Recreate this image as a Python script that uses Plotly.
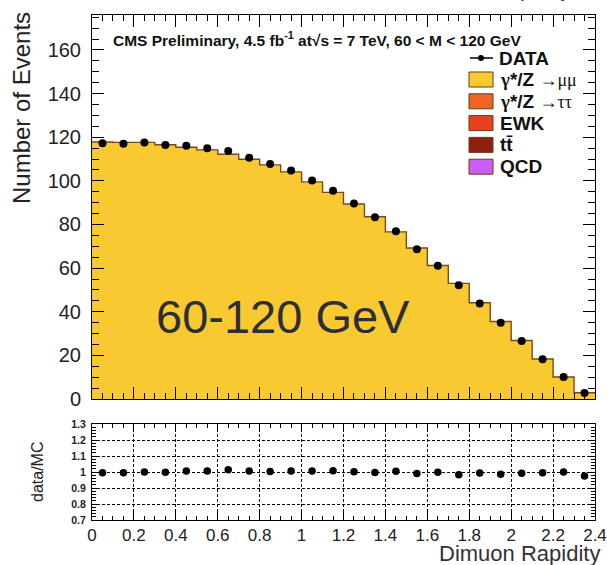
import plotly.graph_objects as go

W, H = 607, 565

# Dimuon rapidity binning (0.1 wide bins from 0 to 2.4)
bin_edges = [round(0.1 * i, 1) for i in range(25)]
bin_centers = [round(0.05 + 0.1 * i, 2) for i in range(24)]

# Observed events per bin
data_counts = [117.2, 117.0, 117.6, 116.4, 116.1, 114.9, 113.7, 110.6,
               107.7, 104.7, 100.1, 95.5, 89.6, 83.3, 76.9, 68.6,
               61.1, 52.1, 43.8, 35.0, 26.6, 18.2, 10.1, 2.8]

# gamma*/Z -> mumu expectation (dominant stacked component)
mc_mumu = [117.8, 117.6, 117.6, 116.5, 115.4, 114.2, 112.2, 109.9,
           107.3, 104.1, 99.5, 94.7, 89.4, 83.5, 76.6, 69.2,
           61.2, 53.0, 44.1, 35.5, 26.8, 18.3, 10.1, 2.87]

ratio = [d / m for d, m in zip(data_counts, mc_mumu)]

main_ticks = [0, 20, 40, 60, 80, 100, 120, 140, 160]
ratio_ticks = [0.7, 0.8, 0.9, 1.0, 1.1, 1.2, 1.3]
ratio_tick_text = ["0.7", "0.8", "0.9", "1", "1.1", "1.2", "1.3"]
x_ticks = [0, 0.2, 0.4, 0.6, 0.8, 1.0, 1.2, 1.4, 1.6, 1.8, 2.0, 2.2, 2.4]
x_tick_text = ["0", "0.2", "0.4", "0.6", "0.8", "1", "1.2", "1.4", "1.6", "1.8", "2", "2.2", "2.4"]

legend_labels = ["γ*/Z →μμ", "γ*/Z →ττ", "EWK", "tt̄", "QCD"]
legend_colors = ["#F9C932", "#EE6424", "#E8411F", "#8E2010", "#CC5CF5"]


def px(x):
    return x / W


def py(y):
    return 1 - y / H


FONT = "Liberation Sans, Arial, sans-serif"
fig = go.Figure()

# stacked MC histogram drawn as a filled step line
fig.add_trace(go.Scatter(
    x=bin_edges, y=mc_mumu + [mc_mumu[-1]],
    mode="lines", line=dict(shape="hv", color="#7a4a1a", width=1.4),
    fill="tozeroy", fillcolor="#F9C932",
    xaxis="x", yaxis="y", showlegend=False, hoverinfo="skip",
))
fig.add_trace(go.Scatter(
    x=bin_centers, y=data_counts, mode="markers",
    marker=dict(color="black", size=8),
    xaxis="x", yaxis="y", showlegend=False,
))
fig.add_trace(go.Scatter(
    x=bin_centers, y=ratio, mode="markers",
    marker=dict(color="black", size=7.5),
    xaxis="x2", yaxis="y2", showlegend=False,
))

xdom = [px(92), px(595)]
axis_common = dict(showline=True, linecolor="black", linewidth=1, mirror="ticks",
                   ticks="inside", tickcolor="black", zeroline=False, automargin=False)

fig.update_layout(
    width=W, height=H,
    margin=dict(l=0, r=0, t=0, b=0, autoexpand=False),
    paper_bgcolor="white", plot_bgcolor="white",
    font=dict(family=FONT, color="#222"),
    xaxis=dict(domain=xdom, range=[0, 2.4], anchor="y", showticklabels=False,
               tickvals=x_ticks, ticklen=12, showgrid=False,
               minor=dict(dtick=0.05, ticklen=6, ticks="inside", tickcolor="black"),
               **axis_common),
    yaxis=dict(domain=[py(399), py(15)], range=[0, 176], anchor="x",
               tickvals=main_ticks, ticklen=12, showgrid=False,
               tickfont=dict(size=20, color="#222"), ticklabelstandoff=6,
               minor=dict(dtick=5, ticklen=7, ticks="inside", tickcolor="black"),
               **axis_common),
    xaxis2=dict(domain=xdom, range=[0, 2.4], anchor="y2",
                tickvals=x_ticks, ticktext=x_tick_text, ticklen=8,
                tickfont=dict(size=17, color="#222"), ticklabeloverflow="allow",
                showgrid=True, gridcolor="black", gridwidth=1, griddash="3px,2px",
                minor=dict(dtick=0.05, ticklen=4, ticks="inside", tickcolor="black"),
                **axis_common),
    yaxis2=dict(domain=[py(520), py(424)], range=[0.7, 1.3], anchor="x2",
                tickvals=ratio_ticks, ticktext=[f"<b>{t}</b>" for t in ratio_tick_text],
                ticklen=8, tickfont=dict(size=10.5, color="#222"), ticklabelstandoff=3,
                showgrid=True, gridcolor="black", gridwidth=1, griddash="3px,2px",
                minor=dict(dtick=0.02, ticklen=4, ticks="inside", tickcolor="black"),
                **axis_common),
)

annotations = [
    dict(text="Number of Events", x=px(22), y=py(108), textangle=-90,
         font=dict(size=24, color="#222")),
    dict(text="data/MC", x=px(37), y=py(472), textangle=-90,
         font=dict(size=16, color="#222")),
    dict(text="Dimuon Rapidity", x=px(601), y=py(553.5), xanchor="right",
         font=dict(size=22, color="#333")),
    dict(text="Dimuon Rapidity", x=px(572), y=py(2), xanchor="right", yanchor="bottom",
         font=dict(size=22, color="#333")),
    dict(text="60-120 GeV", x=px(283), y=py(316),
         font=dict(size=47, color="#2e2e36")),
    dict(text="<b>CMS Preliminary, 4.5 fb<sup>-1</sup> at√s = 7 TeV, 60 &lt; M &lt; 120 GeV</b>",
         x=px(112), y=py(39), xanchor="left",
         font=dict(size=15.5, color="#111")),
    dict(text="<b>DATA</b>", x=px(498), y=py(58), xanchor="left",
         font=dict(size=19, color="#111")),
]
for a in annotations:
    a.update(xref="paper", yref="paper", showarrow=False, borderpad=0)
    a.setdefault("xanchor", "center")
    a.setdefault("yanchor", "middle")

shapes = [
    dict(type="line", x0=px(470), x1=px(493), y0=py(58), y1=py(58),
         line=dict(color="black", width=1.5)),
    dict(type="circle", x0=px(478), x1=px(484), y0=py(61), y1=py(55),
         fillcolor="black", line=dict(color="black", width=0)),
]

legend_y0 = 79.5
for i, (lab, col) in enumerate(zip(legend_labels, legend_colors)):
    yc = legend_y0 + 21.8 * i
    shapes.append(dict(type="rect", x0=px(469), x1=px(493), y0=py(yc + 7.5), y1=py(yc - 7.5),
                       fillcolor=col, line=dict(color="#6b3a1a", width=1)))
    if lab.startswith("γ"):
        head, tail = lab.split(" ")
        txt = ("<b><span style='font-family:Liberation Serif'>γ</span>*/Z</b> "
               f"<span style='font-family:Liberation Serif;font-size:18px'>{tail}</span>")
    else:
        txt = f"<b>{lab}</b>"
    annotations.append(dict(text=txt, x=px(498), y=py(yc), xref="paper", yref="paper",
                            xanchor="left", yanchor="middle", showarrow=False,
                            font=dict(size=19, color="#111")))

for s in shapes:
    s.update(xref="paper", yref="paper")

fig.update_layout(annotations=annotations, shapes=shapes)
fig.write_html("out.html")
